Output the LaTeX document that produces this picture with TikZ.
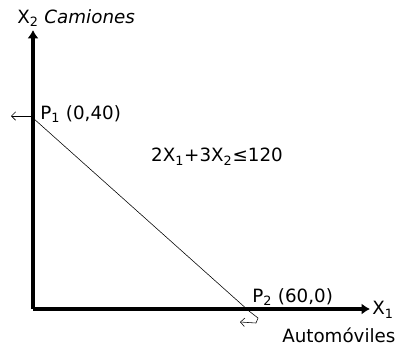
\documentclass[tikz,border=0pt]{standalone}
\usepackage{fontspec}
\setmainfont{DejaVu Sans}
\usetikzlibrary{arrows.meta}
\begin{document}
\begin{tikzpicture}[x=0.025cm, y=-0.025cm,
    lbl/.style={inner sep=0pt, font=\fontsize{13}{15}\selectfont},
    axis/.style={line width=2.4pt, -{Latex[length=6pt,width=8pt]}}]
    \useasboundingbox (0,0) rectangle (406,351);
    % axes and constraint line
    \coordinate (O) at (33,309);
    \coordinate (ytop) at (33,30);
    \coordinate (xend) at (370,309);
    \coordinate (p1) at (33,118);
    \coordinate (p2) at (249,311);
    \draw[axis] (O) -- (ytop);
    \draw[axis] (O) -- (xend);
    \draw[thin] (p1) -- (p2);
    % small marks at the points
    \coordinate (m1) at (11,116);
    \draw[-{Straight Barb[length=3pt]}] (33,116) -- (m1);
    \coordinate (m2) at (240,322);
    \draw[-{Straight Barb[length=3pt]}] (p2) -- (258,318) -- (256,323) -- (m2);
    % labels
    \node[lbl, anchor=west] (x2) at (17,18) {X\textsubscript{2} \textit{Camiones}};
    \node[lbl, anchor=west] (lp1) at (40,114) {P\textsubscript{1} (0,40)};
    \node[lbl] (cons) at (217,157) {2X\textsubscript{1}+3X\textsubscript{2}≤120};
    \node[lbl, anchor=west] (lp2) at (252,297) {P\textsubscript{2} (60,0)};
    \node[lbl, anchor=west] (x1) at (372,310) {X\textsubscript{1}};
    \node[lbl, anchor=west] (auto) at (282,335) {Automóviles};
\end{tikzpicture}
\end{document}
